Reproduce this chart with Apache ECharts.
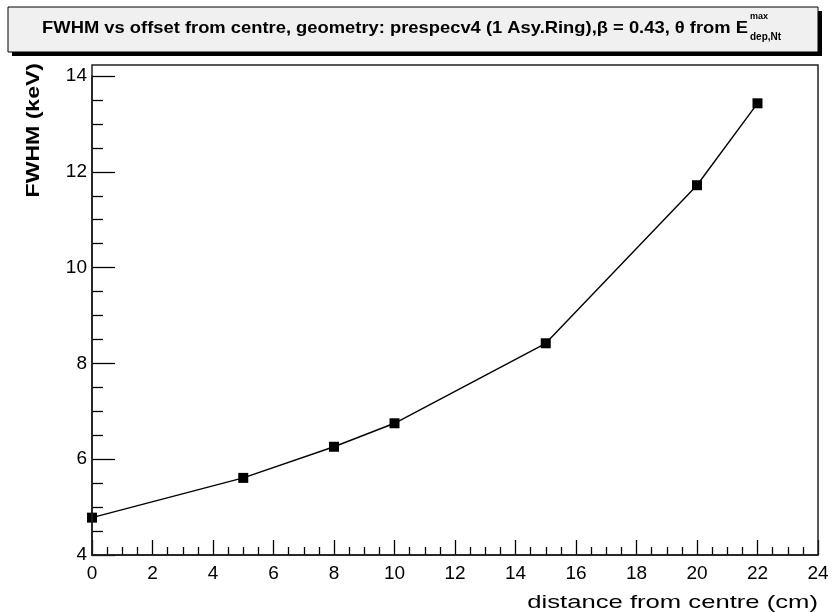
<!DOCTYPE html>
<html>
<head>
<meta charset="utf-8">
<script src="https://cdn.jsdelivr.net/npm/echarts@6/dist/echarts.min.js"></script>
<style>html,body{margin:0;padding:0;background:#fff}#c{width:838px;height:612px}</style>
</head>
<body>
<div id="c"></div>
<script>
var distances = [0, 5, 8, 10, 15, 20, 22];
var fwhm = [4.78, 5.61, 6.26, 6.75, 8.42, 11.72, 13.43];
var xTicks = [0, 2, 4, 6, 8, 10, 12, 14, 16, 18, 20, 22, 24];
var yTicks = [4, 6, 8, 10, 12, 14];
var titleMain = 'FWHM vs offset from centre, geometry: prespecv4 (1 Asy.Ring),\u03b2 = 0.43, \u03b8 from E';
var titleSup = 'max';
var titleSub = 'dep,Nt';
var xTitle = 'distance from centre (cm)';
var yTitle = 'FWHM (keV)';

var chart = echarts.init(document.getElementById('c'), null, {renderer: 'canvas'});
var FONT = '"Liberation Sans", Arial, Helvetica, sans-serif';
var points = distances.map(function (d, i) { return [d, fwhm[i]]; });

chart.setOption({
  animation: false,
  backgroundColor: '#ffffff',
  grid: {left: 92, right: 20, top: 76, bottom: 57, containLabel: false},
  xAxis: {
    type: 'value', min: xTicks[0], max: xTicks[xTicks.length - 1], interval: 2,
    axisLine: {show: true, onZero: false, lineStyle: {color: '#000', width: 1.5}},
    axisTick: {show: true, inside: true, length: 15, lineStyle: {color: '#000', width: 1.3}},
    minorTick: {show: true, splitNumber: 4, length: 8, lineStyle: {color: '#000', width: 1.3}},
    splitLine: {show: false},
    axisLabel: {color: '#000', fontSize: 19, fontFamily: FONT, margin: 9}
  },
  yAxis: {
    type: 'value', min: yTicks[0], max: yTicks[yTicks.length - 1], interval: 2,
    axisLine: {show: true, onZero: false, lineStyle: {color: '#000', width: 1.5}},
    axisTick: {show: true, inside: true, length: 23, lineStyle: {color: '#000', width: 1.3}},
    minorTick: {show: true, splitNumber: 4, length: 11, lineStyle: {color: '#000', width: 1.3}},
    splitLine: {show: false},
    axisLabel: {color: '#000', fontSize: 19, fontFamily: FONT, margin: 5}
  },
  series: [{
    type: 'line',
    data: points,
    symbol: 'rect',
    symbolSize: 10,
    showSymbol: true,
    clip: false,
    itemStyle: {color: '#000'},
    lineStyle: {color: '#000', width: 1.4}
  }],
  graphic: [
    {type: 'rect', z: 0, shape: {x: 12, y: 11, width: 810, height: 45}, style: {fill: '#000'}},
    {type: 'rect', z: 1, shape: {x: 8, y: 7, width: 810, height: 45}, style: {fill: '#f0f0f0', stroke: '#000', lineWidth: 1}},
    {type: 'text', z: 2, x: 748, y: 28, scaleX: 1.08, style: {text: titleMain, font: '600 17px ' + FONT, fill: '#000', textAlign: 'right', textVerticalAlign: 'middle'}},
    {type: 'text', z: 2, x: 750, y: 17, style: {text: titleSup, font: '600 9px ' + FONT, fill: '#000', textAlign: 'left', textVerticalAlign: 'middle'}},
    {type: 'text', z: 2, x: 750, y: 37, style: {text: titleSub, font: '600 10px ' + FONT, fill: '#000', textAlign: 'left', textVerticalAlign: 'middle'}},
    {type: 'rect', z: 5, silent: true, shape: {x: 92, y: 65, width: 726, height: 490}, style: {fill: 'none', stroke: '#222', lineWidth: 1.5}},
    {type: 'text', z: 5, x: 34, y: 63, rotation: Math.PI / 2, scaleX: 1.28, style: {text: yTitle, font: 'bold 18px ' + FONT, fill: '#000', textAlign: 'right', textVerticalAlign: 'middle'}},
    {type: 'text', z: 5, x: 818, y: 603, scaleX: 1.35, style: {text: xTitle, font: '19px ' + FONT, fill: '#000', textAlign: 'right', textVerticalAlign: 'middle'}}
  ]
});
</script>
</body>
</html>
